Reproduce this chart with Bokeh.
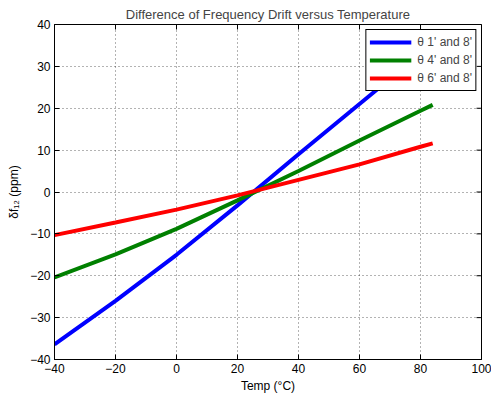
import math
from bokeh.plotting import figure
from bokeh.models import FixedTicker, Legend, LegendItem, Range1d
from bokeh.embed import file_html
from bokeh.resources import INLINE

temp = [-40, -20, 0, 20, 40, 60, 80, 84]
theta_1_8 = [-36.4, -26.0, -15.0, -3.2, 9.0, 21.0, 33.0, 35.4]
theta_4_8 = [-20.4, -14.9, -8.8, -2.0, 5.0, 12.3, 19.4, 20.8]
theta_6_8 = [-10.3, -7.3, -4.2, -0.8, 2.9, 6.6, 10.8, 11.6]
series_labels = ["\u03b8 1' and 8'", "\u03b8 4' and 8'", "\u03b8 6' and 8'"]
colors = ["#0000ff", "#008000", "#ff0000"]
x_ticks = [-40, -20, 0, 20, 40, 60, 80, 100]
y_ticks = [-40, -30, -20, -10, 0, 10, 20, 30, 40]

def lab(v):
    return ("\u2212" + str(abs(v))) if v < 0 else str(v)

FONT = "Liberation Sans"
XMIN, XMAX = x_ticks[0], x_ticks[-1]
YMIN, YMAX = y_ticks[0], y_ticks[-1]

p = figure(width=491, height=405, output_backend="svg", toolbar_location=None,
           x_range=Range1d(XMIN, XMAX), y_range=Range1d(YMIN, YMAX),
           min_border_left=54, min_border_right=10, min_border_top=24, min_border_bottom=46,
           title="Difference of Frequency Drift versus Temperature")
p.title.align = "center"
p.title.text_font = FONT
p.title.text_font_size = "13px"
p.title.text_font_style = "normal"
p.title.offset = 0
p.title.standoff = 5
p.outline_line_color = "black"
p.outline_line_width = 1
p.background_fill_color = "white"
p.border_fill_color = "white"

p.xaxis.ticker = FixedTicker(ticks=x_ticks)
p.yaxis.ticker = FixedTicker(ticks=y_ticks)
p.xaxis.major_label_overrides = {v: lab(v) for v in x_ticks}
p.yaxis.major_label_overrides = {v: lab(v) for v in y_ticks}
p.xaxis.axis_label = "Temp (\u00b0C)"
p.yaxis.axis_label = "\u03b4f\u2081\u2082 (ppm)"
for ax in [p.xaxis[0], p.yaxis[0]]:
    ax.major_tick_in = 5
    ax.major_tick_out = 0
    ax.minor_tick_in = 0
    ax.minor_tick_out = 0
    ax.axis_line_color = "black"
    ax.major_tick_line_color = "black"
    ax.major_label_text_font = FONT
    ax.major_label_text_font_size = "12px"
    ax.major_label_text_color = "black"
    ax.axis_label_text_font = FONT
    ax.axis_label_text_font_size = "12px"
    ax.axis_label_text_font_style = "normal"
    ax.axis_label_text_color = "black"
p.xaxis.major_label_standoff = 4
p.xaxis.axis_label_standoff = 3
p.yaxis.major_label_standoff = 4
p.yaxis.axis_label_standoff = 6

p.grid.grid_line_color = "black"
p.grid.grid_line_alpha = 0.6
p.grid.grid_line_dash = "1 3"
p.grid.grid_line_width = 1

# inward ticks on the top and right edges (box on), clipped to the frame
p.scatter(x_ticks, [YMAX] * len(x_ticks), marker="dash", size=10, angle=math.pi / 2,
          line_color="black", line_width=1)
p.scatter([XMAX] * len(y_ticks), y_ticks, marker="dash", size=10,
          line_color="black", line_width=1)

renderers = []
for ys, c in zip([theta_1_8, theta_4_8, theta_6_8], colors):
    r = p.line(temp, ys, line_color=c, line_width=4)
    renderers.append(r)

legend = Legend(items=[LegendItem(label=l, renderers=[r]) for l, r in zip(series_labels, renderers)],
                location="top_right")
legend.margin = 5
legend.padding = 3
legend.spacing = 0
legend.glyph_width = 42
legend.glyph_height = 18
legend.label_height = 18
legend.label_standoff = 6
legend.label_text_font = FONT
legend.label_text_font_size = "12px"
legend.border_line_color = "black"
legend.border_line_width = 1
legend.border_line_alpha = 1
legend.background_fill_alpha = 1
p.add_layout(legend, "center")

open("out.html", "w").write(file_html(p, INLINE))
